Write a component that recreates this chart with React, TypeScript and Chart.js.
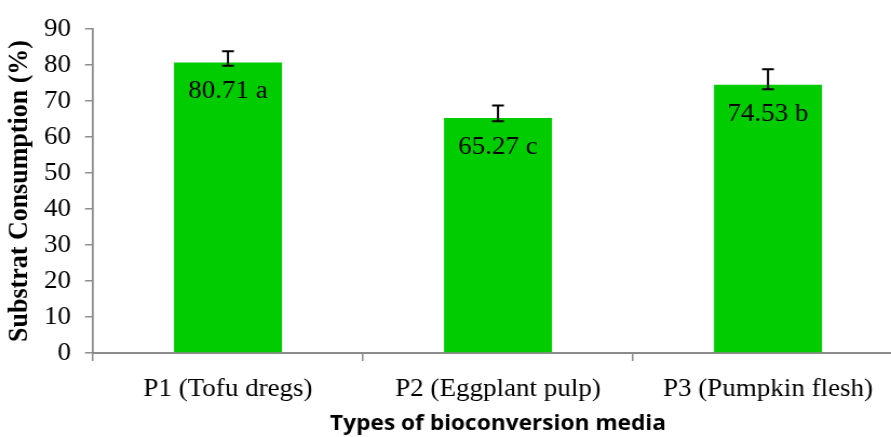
import React, { useEffect, useRef } from "react";
import { Chart, registerables } from "chart.js";

Chart.register(...registerables);

const categories = ["P1 (Tofu dregs)", "P2 (Eggplant pulp)", "P3 (Pumpkin flesh)"];
const values = [80.71, 65.27, 74.53];
const letters = ["a", "c", "b"];
const errPlus = [3.1, 3.5, 4.3];
const errMinus = [0.9, 0.9, 1.3];
const yMin = 0;
const yMax = 90;
const yStep = 10;
const xTitle = "Types of bioconversion media";
const yTitle = "Substrat Consumption (%)";

const STRETCH = 1.08;
const CW = 840;
const CH = 437;
const AXIS = "#8c8c8c";
const SERIF = '"Liberation Serif", "Times New Roman", serif';

const annotate = {
  id: "annotate",
  afterDatasetsDraw(chart: any) {
    const ctx = chart.ctx;
    const meta = chart.getDatasetMeta(0);
    const ys = chart.scales.y;
    ctx.save();
    // value labels
    ctx.fillStyle = "#000";
    ctx.font = `25px ${SERIF}`;
    ctx.textAlign = "center";
    ctx.textBaseline = "alphabetic";
    meta.data.forEach((bar: any, i: number) => {
      const top = ys.getPixelForValue(values[i]);
      ctx.fillText(`${values[i].toFixed(2)} ${letters[i]}`, bar.x, top + 36);
    });
    // error bars
    ctx.strokeStyle = "#000";
    ctx.lineWidth = 2;
    const half = 5.5;
    meta.data.forEach((bar: any, i: number) => {
      const yt = ys.getPixelForValue(values[i] + errPlus[i]);
      const yb = ys.getPixelForValue(values[i] - errMinus[i]);
      ctx.beginPath();
      ctx.moveTo(bar.x, yt);
      ctx.lineTo(bar.x, yb);
      ctx.moveTo(bar.x - half, yt);
      ctx.lineTo(bar.x + half, yt);
      ctx.moveTo(bar.x - half, yb);
      ctx.lineTo(bar.x + half, yb);
      ctx.stroke();
    });
    ctx.restore();
  },
};

export default function App() {
  const ref = useRef<HTMLCanvasElement | null>(null);
  useEffect(() => {
    if (!ref.current) return;
    const chart = new Chart(ref.current, {
      type: "bar",
      data: {
        labels: categories,
        datasets: [
          {
            data: values,
            backgroundColor: "#00CC00",
            borderWidth: 0,
            barPercentage: 0.4,
            categoryPercentage: 1,
          },
        ],
      },
      options: {
        responsive: false,
        animation: false,
        devicePixelRatio: 1,
        layout: { padding: { top: 29, right: CW - 836.1, left: 0, bottom: 0 } },
        plugins: { legend: { display: false }, tooltip: { enabled: false } },
        scales: {
          x: {
            offset: true,
            grid: {
              display: true,
              drawOnChartArea: false,
              drawTicks: true,
              tickLength: 8,
              color: AXIS,
              lineWidth: 1.5,
              offset: true,
            },
            border: { color: AXIS, width: 2 },
            ticks: {
              color: "#000",
              font: { family: SERIF, size: 25 },
              padding: 13,
              maxRotation: 0,
              autoSkip: false,
            },
            title: {
              display: true,
              text: xTitle,
              color: "#000",
              font: { family: '"Open Sans", sans-serif', size: 21, weight: "bold" },
              padding: { top: 0, bottom: 0.8 },
            },
            afterFit(scale: any) {
              scale.height = CH - 353;
            },
          },
          y: {
            min: yMin,
            max: yMax,
            grid: {
              display: true,
              drawOnChartArea: false,
              drawTicks: true,
              tickLength: 7.4,
              color: AXIS,
              lineWidth: 1.5,
            },
            border: { color: AXIS, width: 1.8 },
            ticks: {
              stepSize: yStep,
              color: "#000",
              font: { family: SERIF, size: 25 },
              padding: 13,
            },
            title: {
              display: true,
              text: yTitle,
              color: "#000",
              font: { family: SERIF, size: 26, weight: "bold" },
              padding: { top: 3, bottom: 0 },
            },
            afterFit(scale: any) {
              scale.width = 86.1;
            },
          },
        },
      },
      plugins: [annotate],
    });
    return () => chart.destroy();
  }, []);

  return (
    <div
      style={{
        position: "fixed",
        left: 0,
        top: 0,
        width: 891,
        height: 437,
        overflow: "hidden",
        background: "#fff",
      }}
    >
      <div
        style={{
          width: CW,
          height: CH,
          transform: `scaleX(${STRETCH})`,
          transformOrigin: "0 0",
        }}
      >
        <canvas ref={ref} width={CW} height={CH} style={{ display: "block" }} />
      </div>
    </div>
  );
}
